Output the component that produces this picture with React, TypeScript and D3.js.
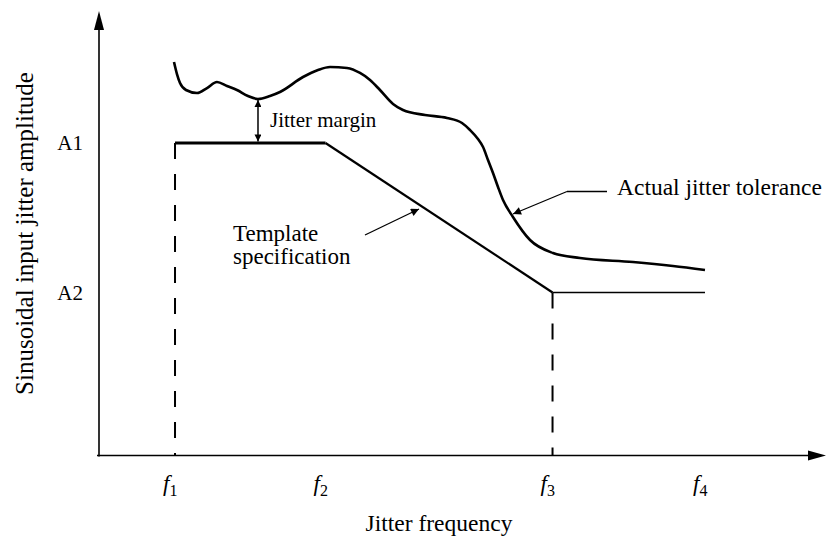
import React from "react";
import * as d3 from "d3";

const W = 827;
const H = 538;

// frequency ticks (arbitrary units) and labels
const freqTickValues = [10.47, 31.2, 62.47, 83.47];
const freqTickLabels = ["1", "2", "3", "4"];
// amplitude ticks
const ampTickValues = [70.46, 36.75];
const ampTickLabels = ["A1", "A2"];

// template specification (freq, amp)
const templateFreq = [10.47, 31.2, 62.47, 83.47];
const templateAmp = [70.46, 70.46, 36.75, 36.75];

// actual jitter tolerance curve
const tolFreq = [10.33, 10.74, 11.16, 11.98, 13.5, 14.88, 16.25, 17.63, 19.0, 20.52, 21.9, 23.55, 24.93, 28.1, 30.17, 31.82, 34.16, 35.95, 37.33, 38.7, 40.5, 41.87, 44.9, 47.93, 50.0, 51.1, 52.2, 52.9, 53.58, 54.27, 54.96, 55.65, 57.02, 59.37, 62.53, 66.25, 73.55, 79.06, 83.47];
const tolAmp = [88.73, 86.0, 83.98, 82.41, 81.73, 82.86, 84.22, 83.31, 82.41, 81.06, 80.38, 81.06, 81.96, 85.34, 86.92, 87.6, 87.37, 86.25, 84.67, 82.41, 79.26, 77.9, 76.78, 76.1, 74.97, 73.4, 71.36, 69.56, 66.63, 63.7, 60.54, 57.61, 53.78, 48.59, 45.66, 44.53, 43.63, 42.73, 41.83];

const marginFreq = 21.9; // jitter margin arrow position

export default function App() {
  const x = d3.scaleLinear().domain([0, 100]).range([99, 825]);
  const y = d3.scaleLinear().domain([0, 100]).range([455.5, 12]);

  const tolData = tolFreq.map((f, i) => [f, tolAmp[i]] as [number, number]);
  const tmplData = templateFreq.map((f, i) => [f, templateAmp[i]] as [number, number]);

  const tolLine = d3
    .line<[number, number]>()
    .x((d) => x(d[0]))
    .y((d) => y(d[1]))
    .curve(d3.curveMonotoneX);

  const font = "'Liberation Serif', 'Times New Roman', serif";
  const x0 = x(0);
  const y0 = y(0);

  const mIdx = tolFreq.indexOf(marginFreq);
  const marginTop = y(tolAmp[mIdx]);
  const marginBot = y(templateAmp[0]);
  const mx = x(marginFreq);

  return (
    <svg width={W} height={H} style={{ position: "absolute", left: 0, top: 0, background: "#fff" }}>
      <defs>
        <marker id="ah" viewBox="0 0 10 10" refX="10" refY="5" markerWidth="14" markerHeight="8" markerUnits="userSpaceOnUse" orient="auto">
          <path d="M0,0 L10,5 L0,10 z" fill="#000" />
        </marker>
        <marker id="ahs" viewBox="0 0 10 10" refX="10" refY="5" markerWidth="11" markerHeight="7" markerUnits="userSpaceOnUse" orient="auto-start-reverse">
          <path d="M0,0 L10,5 L0,10 z" fill="#000" />
        </marker>
      </defs>

      {/* axes */}
      <line x1={x0} y1={y0 + 1} x2={x0} y2={26} stroke="#000" strokeWidth={1.6} />
      <path d={`M${x0},11 L${x0 - 5},30 L${x0 + 5},30 z`} fill="#000" />
      <line x1={x0 - 2} y1={y0} x2={811} y2={y0} stroke="#000" strokeWidth={1.6} />
      <path d={`M826,${y0} L808,${y0 - 5} L808,${y0 + 5} z`} fill="#000" />

      {/* dashed drop lines */}
      <line x1={x(templateFreq[0])} y1={y(templateAmp[0])} x2={x(templateFreq[0])} y2={y0} stroke="#000" strokeWidth={2} strokeDasharray="16 15" />
      <line x1={x(templateFreq[2])} y1={y(templateAmp[2])} x2={x(templateFreq[2])} y2={y0} stroke="#000" strokeWidth={2} strokeDasharray="16 15" />

      {/* template */}
      <line x1={x(tmplData[0][0])} y1={y(tmplData[0][1])} x2={x(tmplData[1][0])} y2={y(tmplData[1][1])} stroke="#000" strokeWidth={3} />
      <line x1={x(tmplData[1][0])} y1={y(tmplData[1][1])} x2={x(tmplData[2][0])} y2={y(tmplData[2][1])} stroke="#000" strokeWidth={2.2} />
      <line x1={x(tmplData[2][0])} y1={y(tmplData[2][1])} x2={x(tmplData[3][0])} y2={y(tmplData[3][1])} stroke="#000" strokeWidth={1.3} />

      {/* actual tolerance */}
      <path d={tolLine(tolData) ?? ""} fill="none" stroke="#000" strokeWidth={2.6} />

      {/* jitter margin */}
      <line x1={mx} y1={marginTop + 1} x2={mx} y2={marginBot - 1.5} stroke="#000" strokeWidth={1.5} markerStart="url(#ahs)" markerEnd="url(#ahs)" />
      <text x={270} y={127} fontFamily={font} fontSize={21}>Jitter margin</text>

      {/* actual jitter tolerance annotation */}
      <line x1={607} y1={191.5} x2={567} y2={191.5} stroke="#000" strokeWidth={1.3} />
      <line x1={567} y1={191.5} x2={513} y2={214} stroke="#000" strokeWidth={1.3} markerEnd="url(#ah)" />
      <text x={617} y={195} fontFamily={font} fontSize={23.5}>Actual jitter tolerance</text>

      {/* template annotation */}
      <line x1={365} y1={235} x2={419} y2={209} stroke="#000" strokeWidth={1.3} markerEnd="url(#ah)" />
      <text x={233} y={241} fontFamily={font} fontSize={23}>Template</text>
      <text x={233} y={263.5} fontFamily={font} fontSize={23}>specification</text>

      {/* y ticks */}
      {ampTickValues.map((v, i) => (
        <text key={i} x={83} y={y(v) + 7} textAnchor="end" fontFamily={font} fontSize={21}>
          {ampTickLabels[i]}
        </text>
      ))}

      {/* x ticks */}
      {freqTickValues.map((v, i) => (
        <text key={i} x={x(v) - 12} y={491} fontFamily={font} fontSize={23}>
          <tspan fontStyle="italic">f</tspan>
          <tspan fontSize={16} dy={5}>{freqTickLabels[i]}</tspan>
        </text>
      ))}

      {/* axis titles */}
      <text x={439} y={531} textAnchor="middle" fontFamily={font} fontSize={23.5}>Jitter frequency</text>
      <text transform={`translate(33,233.5) rotate(-90)`} textAnchor="middle" fontFamily={font} fontSize={25}>
        Sinusoidal input jitter amplitude
      </text>
    </svg>
  );
}
